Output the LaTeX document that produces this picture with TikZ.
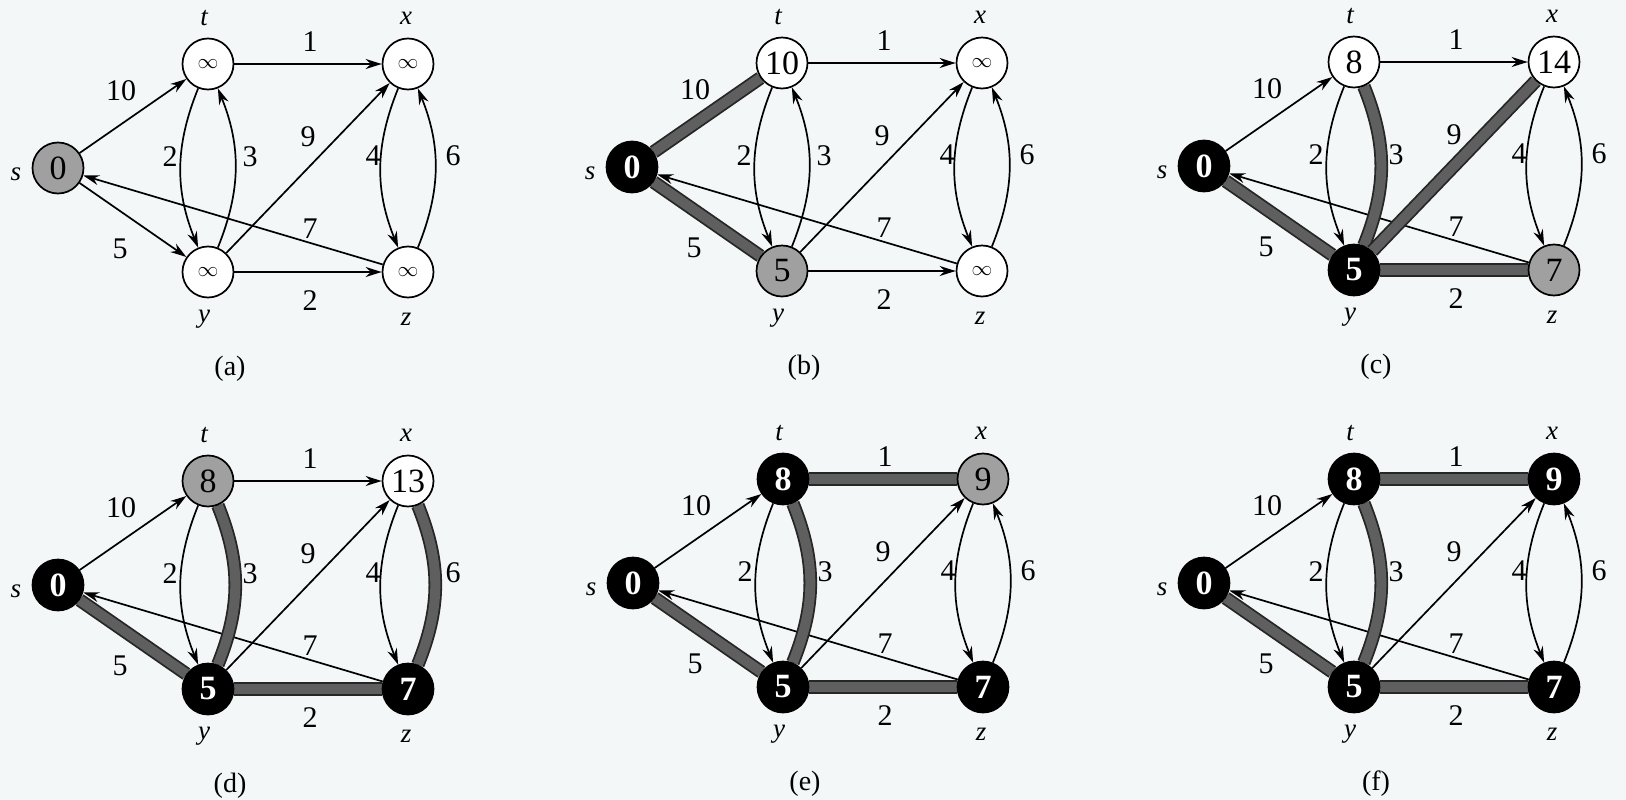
\documentclass[tikz,border=0pt]{standalone}
\usepackage{fontspec}
\setmainfont{Liberation Serif}
\usetikzlibrary{arrows.meta}
\pgfdeclarelayer{bg}
\pgfdeclarelayer{edges}
\pgfsetlayers{bg,edges,main}
\definecolor{paper}{RGB}{244,247,247}
\definecolor{nodegray}{RGB}{160,160,160}
\definecolor{treegray}{RGB}{95,95,95}
\newcommand\infv{{\fontsize{21}{21}\selectfont$\infty$}}
\tikzset{
  vtx/.style={circle,draw=black,line width=1.7pt,minimum size=51pt,inner sep=0pt,font=\fontsize{34}{36}\selectfont},
  wv/.style={vtx,fill=white},
  gv/.style={vtx,fill=nodegray},
  bv/.style={vtx,fill=black,text=white,font=\fontsize{34}{36}\selectfont\bfseries},
  e/.style={line width=1.7pt,-{Stealth[length=16pt,width=10pt]}},
  tree/.style={line width=1.8pt,draw=black!85,double=treegray,double distance=10pt},
  wl/.style={font=\fontsize{30}{32}\selectfont,inner sep=0pt},
  vl/.style={font=\fontsize{27}{29}\selectfont\itshape,inner sep=0pt},
  capt/.style={font=\fontsize{28}{30}\selectfont,inner sep=0pt}
}
\newcommand\gedges[1]{%
  \begin{pgfonlayer}{edges}
  \draw[e] (#1-s) -- (#1-t);
  \draw[e] (#1-s) -- (#1-y);
  \draw[e] (#1-t) -- (#1-x);
  \draw[e] (#1-t) to[bend right=22] (#1-y);
  \draw[e] (#1-y) to[bend right=22] (#1-t);
  \draw[e] (#1-y) -- (#1-x);
  \draw[e] (#1-x) to[bend right=22] (#1-z);
  \draw[e] (#1-z) to[bend right=22] (#1-x);
  \draw[e] (#1-z) -- (#1-s);
  \draw[e] (#1-y) -- (#1-z);
  \end{pgfonlayer}}
\newcommand\glabels[2]{%
  \node[wl] (#1-w10) at (-87,27) {10};
  \node[wl] (#1-w1) at (102,-22) {1};
  \node[wl] (#1-w2a) at (-38,93) {2};
  \node[wl] (#1-w3) at (42,93) {3};
  \node[wl] (#1-w9) at (100,73) {9};
  \node[wl] (#1-w4) at (165,92) {4};
  \node[wl] (#1-w6) at (245,92) {6};
  \node[wl] (#1-w7) at (102,165) {7};
  \node[wl] (#1-w5) at (-88,185) {5};
  \node[wl] (#1-w2b) at (102,237) {2};
  \node[vl] (#1-ls) at (-192,110) {s};
  \node[vl] (#1-lt) at (-4,-46) {t};
  \node[vl] (#1-lx) at (198,-46) {x};
  \node[vl] (#1-ly) at (-4,255) {y};
  \node[vl] (#1-lz) at (198,255) {z};
  \node[capt] (#1-cap) at (22,305) {(#2)};}
\begin{document}
\begin{tikzpicture}[x=1pt,y=-1pt]
\begin{pgfonlayer}{bg}
\fill[paper] (0,0) rectangle (1626,800);
\end{pgfonlayer}
\useasboundingbox (0,0) rectangle (1626,800);
% (a)
\begin{scope}[shift={(208,64)}]
  \node[gv] (a-s) at (-150,104) {0};
  \node[wv] (a-t) at (0,0) {\infv};
  \node[wv] (a-x) at (200,0) {\infv};
  \node[wv] (a-y) at (0,208) {\infv};
  \node[wv] (a-z) at (200,208) {\infv};
  \glabels{a}{a}
  \gedges{a}
\end{scope}
% (b)
\begin{scope}[shift={(782,63)}]
  \node[bv] (b-s) at (-150,104) {0};
  \node[wv] (b-t) at (0,0) {10};
  \node[wv] (b-x) at (200,0) {\infv};
  \node[gv] (b-y) at (0,208) {5};
  \node[wv] (b-z) at (200,208) {\infv};
  \glabels{b}{b}
  \gedges{b}
  \begin{pgfonlayer}{edges}
  \draw[tree] (b-s) -- (b-t);
  \draw[tree] (b-s) -- (b-y);
  \end{pgfonlayer}
\end{scope}
% (c)
\begin{scope}[shift={(1354,62)}]
  \node[bv] (c-s) at (-150,104) {0};
  \node[wv] (c-t) at (0,0) {8};
  \node[wv] (c-x) at (200,0) {14};
  \node[bv] (c-y) at (0,208) {5};
  \node[gv] (c-z) at (200,208) {7};
  \glabels{c}{c}
  \gedges{c}
  \begin{pgfonlayer}{edges}
  \draw[tree] (c-s) -- (c-y);
  \draw[tree] (c-y) to[bend right=22] (c-t);
  \draw[tree] (c-y) -- (c-x);
  \draw[tree] (c-y) -- (c-z);
  \end{pgfonlayer}
\end{scope}
% (d)
\begin{scope}[shift={(208,481)}]
  \node[bv] (d-s) at (-150,104) {0};
  \node[gv] (d-t) at (0,0) {8};
  \node[wv] (d-x) at (200,0) {13};
  \node[bv] (d-y) at (0,208) {5};
  \node[bv] (d-z) at (200,208) {7};
  \glabels{d}{d}
  \gedges{d}
  \begin{pgfonlayer}{edges}
  \draw[tree] (d-s) -- (d-y);
  \draw[tree] (d-y) to[bend right=22] (d-t);
  \draw[tree] (d-y) -- (d-z);
  \draw[tree] (d-z) to[bend right=22] (d-x);
  \end{pgfonlayer}
\end{scope}
% (e)
\begin{scope}[shift={(783,479)}]
  \node[bv] (e-s) at (-150,104) {0};
  \node[bv] (e-t) at (0,0) {8};
  \node[gv] (e-x) at (200,0) {9};
  \node[bv] (e-y) at (0,208) {5};
  \node[bv] (e-z) at (200,208) {7};
  \glabels{e}{e}
  \gedges{e}
  \begin{pgfonlayer}{edges}
  \draw[tree] (e-s) -- (e-y);
  \draw[tree] (e-y) to[bend right=22] (e-t);
  \draw[tree] (e-t) -- (e-x);
  \draw[tree] (e-y) -- (e-z);
  \end{pgfonlayer}
\end{scope}
% (f)
\begin{scope}[shift={(1354,479)}]
  \node[bv] (f-s) at (-150,104) {0};
  \node[bv] (f-t) at (0,0) {8};
  \node[bv] (f-x) at (200,0) {9};
  \node[bv] (f-y) at (0,208) {5};
  \node[bv] (f-z) at (200,208) {7};
  \glabels{f}{f}
  \gedges{f}
  \begin{pgfonlayer}{edges}
  \draw[tree] (f-s) -- (f-y);
  \draw[tree] (f-y) to[bend right=22] (f-t);
  \draw[tree] (f-t) -- (f-x);
  \draw[tree] (f-y) -- (f-z);
  \end{pgfonlayer}
\end{scope}
\end{tikzpicture}
\end{document}
